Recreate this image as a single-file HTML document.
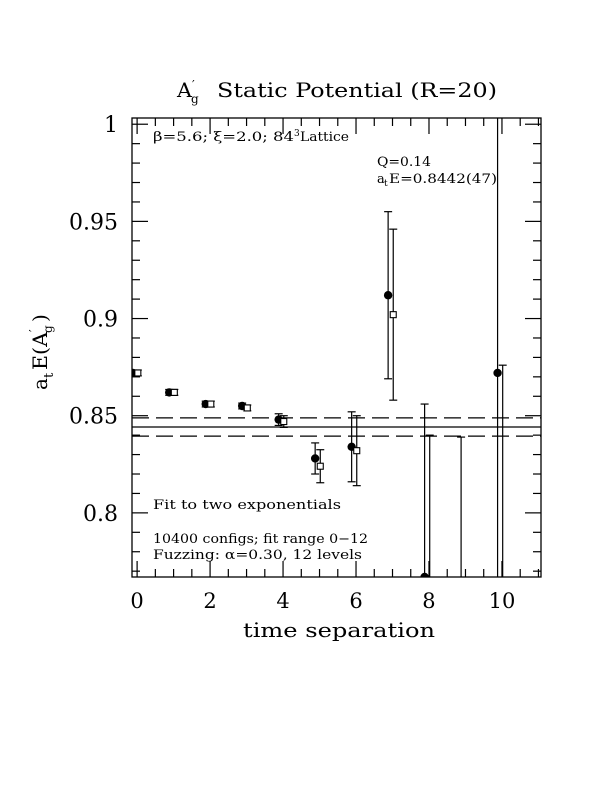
<!DOCTYPE html>
<html><head><meta charset="utf-8"><style>
html,body{margin:0;padding:0;background:#fff;width:612px;height:792px;overflow:hidden}
svg{display:block}
text{font-family:"DejaVu Serif","Liberation Serif",serif;fill:#000}
</style></head><body>
<svg id="c" width="612" height="792" viewBox="0 0 612 792" xmlns="http://www.w3.org/2000/svg">
<g>
<text x="177" y="97" font-size="20" textLength="15" lengthAdjust="spacingAndGlyphs">A</text>
<text x="192" y="89" font-size="12">′</text>
<text x="191" y="103" font-size="12">g</text>
<text x="217" y="97" font-size="20" textLength="280" lengthAdjust="spacingAndGlyphs">Static Potential (R=20)</text>
</g>
<g transform="translate(47,390) rotate(-90)">
<text x="0" y="0" font-size="20">a</text>
<text x="12" y="6" font-size="13">t</text>
<text x="20" y="0" font-size="20" textLength="38" lengthAdjust="spacingAndGlyphs">E(A</text>
<text x="58" y="-9" font-size="12">′</text>
<text x="57" y="5" font-size="12">g</text>
<text x="68" y="0" font-size="20">)</text>
</g>
<text x="243" y="637" font-size="20" textLength="192" lengthAdjust="spacingAndGlyphs">time separation</text>
<g>
<text x="153" y="141" font-size="13" textLength="141" lengthAdjust="spacingAndGlyphs">β=5.6; ξ=2.0; 84</text>
<text x="294" y="136" font-size="9">3</text>
<text x="300" y="141" font-size="13" textLength="49" lengthAdjust="spacingAndGlyphs">Lattice</text>
</g>
<text x="377" y="166" font-size="13" textLength="54" lengthAdjust="spacingAndGlyphs">Q=0.14</text>
<g>
<text x="377" y="183" font-size="13">a</text>
<text x="384" y="186" font-size="9">t</text>
<text x="389" y="183" font-size="13" textLength="108" lengthAdjust="spacingAndGlyphs">E=0.8442(47)</text>
</g>
<text x="153" y="509" font-size="13" textLength="188" lengthAdjust="spacingAndGlyphs">Fit to two exponentials</text>
<text x="153" y="543" font-size="13" textLength="215" lengthAdjust="spacingAndGlyphs">10400 configs; fit range 0−12</text>
<text x="153" y="559" font-size="13" textLength="209" lengthAdjust="spacingAndGlyphs">Fuzzing: α=0.30, 12 levels</text>
<g id="ax"></g>
<g id="marks"></g>
</svg>
<script>
const times=[0,1,2,3,4,5,6,7,8,9,10];
const circleVals=[0.872,0.862,0.856,0.855,0.848,0.828,0.834,0.912,0.767,0.600,0.872];
const circleErrs=[0.0015,0.0015,0.0015,0.0015,0.003,0.008,0.018,0.043,0.089,0.239,0.2];
const squareVals=[0.872,0.862,0.856,0.854,0.847,0.824,0.832,0.902,0.700,null,0.700];
const squareErrs=[0.0015,0.0015,0.0015,0.0015,0.003,0.0085,0.018,0.044,0.140,null,0.176];
const yTicks=[0.8,0.85,0.9,0.95,1];
const yTickLabels=["0.8","0.85","0.9","0.95","1"];
const xTicks=[0,2,4,6,8,10];
const fitE=0.8442, fitErr=0.0047;

const L=132,R=541,T=118,B=577;
const xmin=-0.14,xmax=11.07,ymin=0.767,ymax=1.0032;
const X=v=>L+(v-xmin)/(xmax-xmin)*(R-L);
const Y=v=>B-(v-ymin)/(ymax-ymin)*(B-T);
const NS="http://www.w3.org/2000/svg";
const ax=document.getElementById('ax'),mk=document.getElementById('marks');
function el(p,tag,a){const e=document.createElementNS(NS,tag);for(const k in a)e.setAttribute(k,a[k]);p.appendChild(e);return e;}
function ln(p,x1,y1,x2,y2,extra){return el(p,'line',Object.assign({x1,y1,x2,y2,stroke:'#000','stroke-width':1.2},extra||{}));}

const frame=el(ax,'rect',{x:L,y:T,width:R-L,height:B-T,fill:'none',stroke:'#000','stroke-width':1.3});


const defs=el(document.getElementById('c'),'defs',{});
const cp=el(defs,'clipPath',{id:'clip'});el(cp,'rect',{x:L,y:T,width:R-L,height:B-T});
mk.setAttribute('clip-path','url(#clip)');

for(let v=0.77;v<=1.0001;v+=0.01){
  const major=Math.abs(v*20-Math.round(v*20))<1e-6;const y=Y(v),len=major?16:8;
  ln(ax,L,y,L+len,y);ln(ax,R,y,R-len,y);
}
for(let t=0;t<=11.001;t+=0.5){
  const major=Math.abs(t/2-Math.round(t/2))<1e-6;const x=X(t),len=major?16:8;
  ln(ax,x,B,x,B-len);ln(ax,x,T,x,T+len);
}
yTicks.forEach((v,i)=>{const t=el(ax,'text',{x:L-14,y:Y(v)+8,'font-size':22,'text-anchor':'end'});t.textContent=yTickLabels[i];

});
xTicks.forEach(v=>{const t=el(ax,'text',{x:X(v),y:B+31,'font-size':21,'text-anchor':'middle'});t.textContent=String(v);

});

const f=ln(mk,L,Y(fitE),R,Y(fitE));


[fitE+fitErr,fitE-fitErr].forEach(v=>{const d=ln(mk,L,Y(v),R,Y(v),{'stroke-dasharray':'17,7'});

});

function errbar(x,v,e){const y1=Y(v+e),y2=Y(v-e);ln(mk,x,y1,x,y2);ln(mk,x-4,y1,x+4,y1);ln(mk,x-4,y2,x+4,y2);}
times.forEach((t,i)=>{
  if(circleVals[i]!=null){const x=X(t-0.12);errbar(x,circleVals[i],circleErrs[i]);
    const c=el(mk,'circle',{cx:x,cy:Y(circleVals[i]),r:4.2,fill:'#000'});
    
    }
  if(squareVals[i]!=null){const x=X(t+0.02);errbar(x,squareVals[i],squareErrs[i]);
    const s=el(mk,'rect',{x:x-3,y:Y(squareVals[i])-3,width:6,height:6,fill:'#fff',stroke:'#000','stroke-width':1.1});
    
    }
});
</script>
</body></html>
